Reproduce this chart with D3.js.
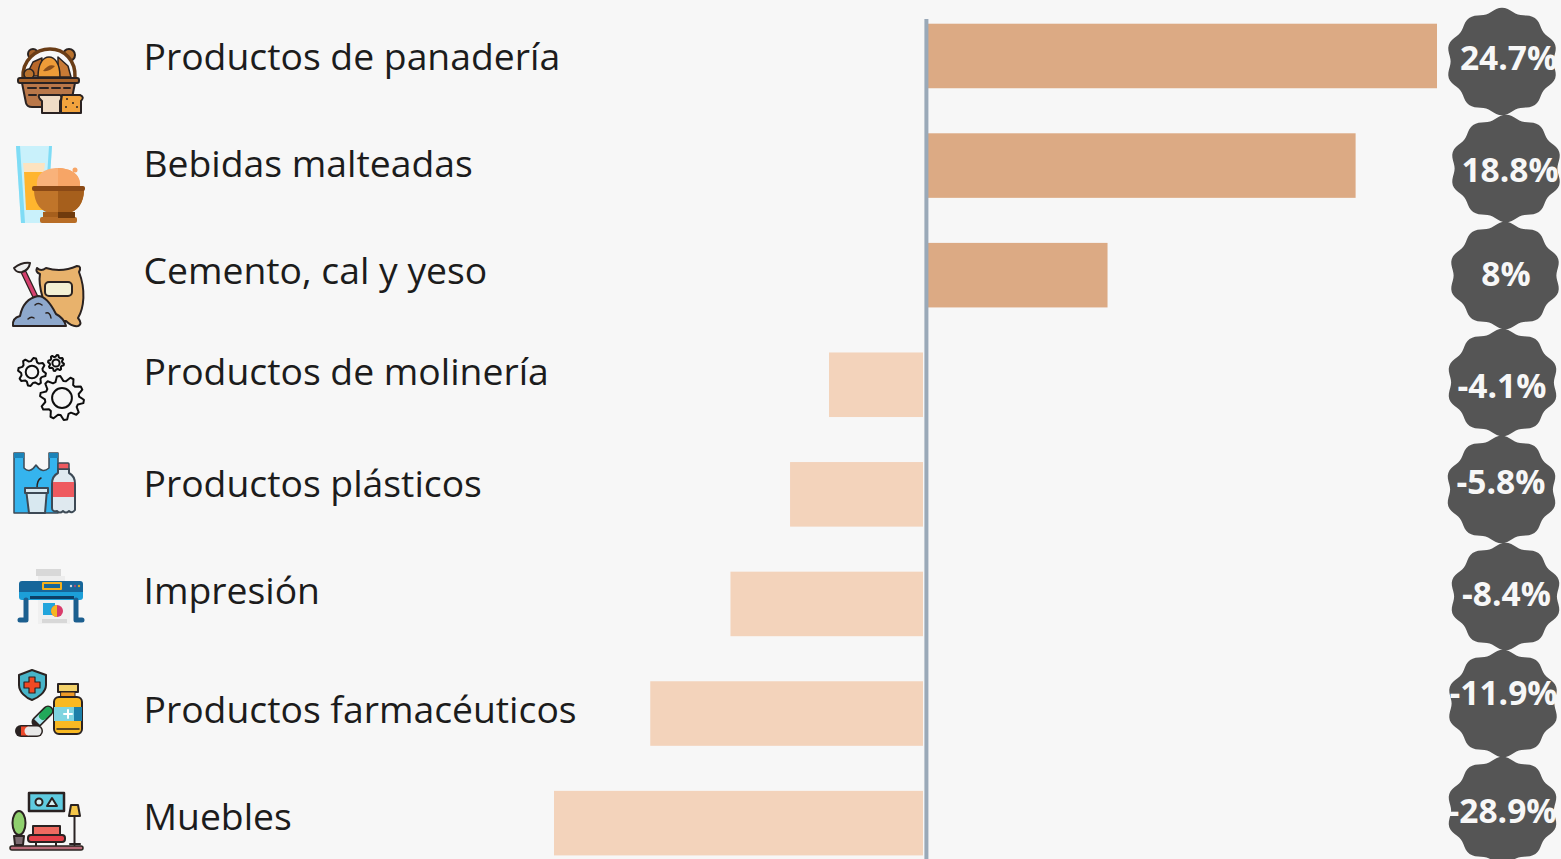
<!DOCTYPE html>
<html>
<head>
<meta charset="utf-8">
<script src="https://cdn.jsdelivr.net/npm/d3@7"></script>
<style>
  html, body { margin: 0; padding: 0; background: #f7f7f7; overflow: hidden; }
  text { font-family: "Open Sans", sans-serif; }
</style>
</head>
<body>
<div id="chart"></div>
<script>
const categories = ["Productos de panadería", "Bebidas malteadas", "Cemento, cal y yeso",
  "Productos de molinería", "Productos plásticos", "Impresión",
  "Productos farmacéuticos", "Muebles"];
// bar lengths as drawn in the picture (the two longest bars are not to scale with their labels)
const barValues = [22.2, 18.65, 7.83, -4.1, -5.8, -8.4, -11.9, -16.1];
const valueLabels = ["24.7%", "18.8%", "8%", "-4.1%", "-5.8%", "-8.4%", "-11.9%", "-28.9%"];

// hand placement, the original is not regular
const nameBaseline = [70, 177, 284, 385, 497, 604, 723, 830];
const badgeX = [1502, 1506, 1505, 1502.5, 1501.5, 1505.5, 1503, 1502.5];
const valueX = [1508.5, 1510, 1506, 1502, 1501, 1506.5, 1503.5, 1502.5];
const valueBaseline = [70, 182, 286, 398, 494, 606, 705, 823];

const width = 1561, height = 859;

const svg = d3.select("#chart").append("svg")
  .attr("width", width)
  .attr("height", height)
  .style("display", "block");

svg.append("defs").append("filter").attr("id", "soft")
  .append("feGaussianBlur").attr("stdDeviation", 0.45);
svg.select("defs").append("filter").attr("id", "softer")
  .append("feGaussianBlur").attr("stdDeviation", 0.35);

const y = d3.scaleBand().domain(categories).range([23.7, 855.4]).paddingInner(0.411);
const yBadge = d3.scalePoint().domain(categories).range([61.5, 810.5]);
// the negative side stops short of the axis, so each side has its own origin
const xPos = d3.scaleLinear().domain([0, 22.2]).range([928, 1437]);
const xNeg = d3.scaleLinear().domain([-16.1, 0]).range([554, 923]);

const rows = categories.map((name, i) => ({
  name, value: barValues[i], label: valueLabels[i],
  nameY: nameBaseline[i], badgeX: badgeX[i], valueX: valueX[i], valueY: valueBaseline[i]
}));

// bars
svg.append("g").attr("filter", "url(#softer)")
  .selectAll("rect").data(rows).join("rect")
  .attr("x", d => d.value > 0 ? xPos(0) : xNeg(d.value))
  .attr("y", d => y(d.name))
  .attr("width", d => d.value > 0 ? xPos(d.value) - xPos(0) : xNeg(0) - xNeg(d.value))
  .attr("height", y.bandwidth())
  .attr("fill", d => d.value > 0 ? "#dcaa84" : "#f3d3bb");

// axis line
svg.append("line")
  .attr("x1", 926.4).attr("x2", 926.4)
  .attr("y1", 19).attr("y2", height)
  .attr("stroke", "#9aa9b8").attr("stroke-width", 4);

// names
svg.append("g").selectAll("text").data(rows).join("text")
  .attr("x", 143.5)
  .attr("y", d => d.nameY)
  .attr("font-size", 37.3)
  .attr("fill", "#1c1c1c")
  .text(d => d.name);

// scalloped badges, ten soft lobes
const scallop = d3.lineRadial()
  .angle(t => t)
  .radius(t => 51.6 + 2.2 * Math.cos(10 * t))
  .curve(d3.curveLinearClosed);
const badgeAngles = d3.range(0, 2 * Math.PI, Math.PI / 60);

svg.append("g").selectAll("path").data(rows).join("path")
  .attr("transform", d => `translate(${d.badgeX},${yBadge(d.name)}) scale(1.04,1)`)
  .attr("d", scallop(badgeAngles))
  .attr("fill", "#555555");

svg.append("g").selectAll("text").data(rows).join("text")
  .attr("x", d => d.valueX)
  .attr("y", d => d.valueY)
  .attr("text-anchor", "middle")
  .attr("font-size", 33.5)
  .attr("font-weight", 700)
  .attr("fill", "#f7f7f7")
  .text(d => d.label);

// icons
const DK = "#2a2320";
const icons = svg.append("g").attr("filter", "url(#soft)")
  .attr("stroke-linejoin", "round").attr("stroke-linecap", "round");

function gear(cx, cy, r, teeth) {
  const pts = [];
  const n = teeth * 4;
  for (let k = 0; k < n; k++) {
    const a = (k + 0.5) / n * 2 * Math.PI;
    const rr = (k % 4 < 2) ? r : r * 0.78;
    pts.push([cx + rr * Math.cos(a), cy + rr * Math.sin(a)]);
  }
  icons.append("path").attr("d", d3.line().curve(d3.curveLinearClosed)(pts))
    .attr("fill", "#f7f7f7").attr("stroke", "#111").attr("stroke-width", 2);
  icons.append("circle").attr("cx", cx).attr("cy", cy).attr("r", r * 0.45)
    .attr("fill", "#f7f7f7").attr("stroke", "#111").attr("stroke-width", 2);
}

icons.html(`
<!-- basket -->
<circle cx="33" cy="54" r="5" fill="#a5622b" stroke="${DK}" stroke-width="2"/>
<circle cx="69" cy="55" r="6" fill="#b8722f" stroke="${DK}" stroke-width="2"/>
<path d="M23,78 C22,60 36,49 50,49 C64,49 76,60 75,78" fill="#f7f7f7" stroke="#6b3d17" stroke-width="3.5"/>
<path d="M26,76 L33,62 L42,58 L40,76Z" fill="#b8682c" stroke="${DK}" stroke-width="1.5"/>
<path d="M58,57 L68,66 L71,77 L58,77Z" fill="#c97a35" stroke="${DK}" stroke-width="1.5"/>
<path d="M38,77 C38,62 44,57 49,57 C54,57 60,62 60,77Z" fill="#ee9c38" stroke="${DK}" stroke-width="1.5"/>
<path d="M43,71 Q49,63 55,66 Q50,72 43,71Z" fill="#8a4f1c"/>
<circle cx="29" cy="74" r="5" fill="#b8722f" stroke="${DK}" stroke-width="1.5"/>
<path d="M22,83 L75,83 L71,103 Q70,107 65,107 L32,107 Q27,107 26,103Z" fill="#b9774a" stroke="${DK}" stroke-width="2"/>
<rect x="18" y="78" width="61" height="5" rx="2" fill="#a8632b" stroke="${DK}" stroke-width="2"/>
<path d="M28,88 h8 M40,88 h8 M52,88 h8 M64,88 h6 M29,95 h7" stroke="${DK}" stroke-width="2"/>
<path d="M39,95 H60 Q63,97 60,101 V113 H42 V101 Q38,98 39,95Z" fill="#f0dcc6" stroke="${DK}" stroke-width="2"/>
<path d="M62,95 H80 Q85,97 81,101 V113 H61 V101Z" fill="#f2a33c" stroke="${DK}" stroke-width="2"/>
<circle cx="67" cy="99" r="1" fill="${DK}"/><circle cx="73" cy="103" r="1" fill="${DK}"/><circle cx="66" cy="107" r="1" fill="${DK}"/><circle cx="77" cy="107" r="1" fill="${DK}"/>

<!-- malted drink -->
<path d="M16,146 H52 L47,223 H21Z" fill="#c9f1fb"/>
<path d="M16,146 H20 L25,223 H21Z M52,146 H49 L44,223 H47Z" fill="#7fdcf5"/>
<path d="M23,163 H45 L44,172 H24Z" fill="#fde3c0"/>
<path d="M24,172 H44 L43,210 H26Z" fill="#ffb52e"/>
<path d="M37,186 C35,172 48,168 58,168 C70,168 81,174 80,186Z" fill="#f9b27a"/>
<path d="M58,168 C70,168 81,174 80,186 H58Z" fill="#f7a566"/>
<circle cx="75" cy="170" r="2.5" fill="#f7a566"/>
<path d="M34,190 H84 C84,204 76,212 68,213 H50 C42,212 34,204 34,190Z" fill="#c0752a"/>
<path d="M58,190 H84 C84,204 76,212 68,213 H58Z" fill="#a65f1c"/>
<rect x="32" y="186" width="53" height="5" rx="2" fill="#8a4a14"/>
<rect x="43" y="212" width="32" height="6" fill="#a65f1c"/>
<rect x="40" y="217" width="37" height="6" rx="2" fill="#b86d25"/>
<rect x="58" y="212" width="17" height="6" fill="#6f3a0e"/>

<!-- cement -->
<path d="M37,268 Q41,272 46,268 C56,271 68,270 77,266 Q82,266 79,272 C86,290 84,308 78,318 Q83,324 78,326 Q72,327 66,321 L55,321 C44,310 38,285 40,274 Q35,272 37,268Z" fill="#e8b26c" stroke="${DK}" stroke-width="2"/>
<rect x="45" y="282" width="27" height="14" rx="4" fill="#f3f0d4" stroke="${DK}" stroke-width="2"/>
<path d="M24,273 L36,298" stroke="${DK}" stroke-width="6"/>
<path d="M24,273 L36,298" stroke="#d43f6e" stroke-width="3.5"/>
<path d="M14,268 Q22,262 30,263 Q29,270 22,272 Q16,273 14,268Z" fill="#eeeeee" stroke="${DK}" stroke-width="2"/>
<path d="M13,326 Q12,318 20,316 C22,306 28,298 38,296 C46,296 52,306 56,314 Q64,318 66,326Z" fill="#8ea8cc" stroke="${DK}" stroke-width="2"/>
<path d="M35,305 Q38,302 42,305 M46,313 Q50,312 51,318 M28,319 Q31,316 34,318" fill="none" stroke="${DK}" stroke-width="1.5"/>

<!-- plastic bag and bottle -->
<path d="M14,453 H24 V468 Q30,474 36,465 Q42,474 49,468 V453 H58 V513 H14Z" fill="#35b4ee" stroke="#3c4a55" stroke-width="1.5"/>
<path d="M14,453 H24 V458 H14Z M49,453 H58 V458 H49Z" fill="#1f83b8"/>
<path d="M37,488 Q37,480 41,478" fill="none" stroke="${DK}" stroke-width="1.5"/>
<path d="M26,489 H47 L45,513 H29Z" fill="#d8e8f0" stroke="#3c4a55" stroke-width="2"/>
<rect x="25" y="488" width="23" height="5" fill="#d8e8f0" stroke="#3c4a55" stroke-width="2"/>
<path d="M58,469 H69 V473 Q75,476 75,484 V510 Q72,514 69,511 Q66,514 63,511 Q60,514 57,511 Q52,512 52,508 V484 Q52,476 58,473Z" fill="#dfe9ef" stroke="#3c4a55" stroke-width="2"/>
<rect x="58" y="463" width="11" height="6" rx="1" fill="#ee5a5e" stroke="#3c4a55" stroke-width="1.5"/>
<rect x="53" y="482" width="21" height="15" fill="#ee5a5e"/>

<!-- printer -->
<rect x="36" y="569" width="25" height="7" fill="#d8d8d8"/>
<rect x="38" y="576" width="27" height="5" fill="#ededed"/>
<path d="M19,584 Q19,581 22,581 H80 Q83,581 83,584 V592 H19Z" fill="#17669a"/>
<path d="M19,592 H83 V597 Q83,600 80,600 H22 Q19,600 19,597Z" fill="#1e9fd8"/>
<rect x="43" y="583" width="18" height="6" fill="#17669a" stroke="#f2b01e" stroke-width="2"/>
<circle cx="71" cy="586" r="1.2" fill="#cfd8dd"/><circle cx="75" cy="586" r="1.2" fill="#a14a7a"/><circle cx="79" cy="586" r="1.2" fill="#d9a92a"/>
<rect x="30" y="596" width="44" height="3" fill="#0e4066"/>
<path d="M26,600 V620 H20" fill="none" stroke="#1f5f8f" stroke-width="5"/>
<path d="M76,600 V620 H82" fill="none" stroke="#1f5f8f" stroke-width="5"/>
<rect x="38" y="600" width="32" height="24" fill="#f0f0f0"/>
<rect x="43" y="603" width="12" height="12" fill="#22a5dc"/>
<circle cx="57" cy="611" r="6" fill="#d93a6a"/>
<path d="M57,605 A6,6 0 0 0 57,617Z" fill="#f5b623"/>
<rect x="42" y="619" width="25" height="4" fill="#d8d8d8"/>

<!-- pharma -->
<path d="M32,670 L46,675 V685 C46,692 38,698 32,700 C26,698 19,692 19,685 V675Z" fill="#46b4c8" stroke="${DK}" stroke-width="2"/>
<path d="M29,677 h6 v5 h5 v6 h-5 v5 h-6 v-5 h-5 v-6 h5Z" fill="#f04a23" stroke="${DK}" stroke-width="1.2"/>
<rect x="58" y="684" width="20" height="8" fill="#f4d26a" stroke="${DK}" stroke-width="2"/>
<rect x="61" y="692" width="14" height="6" fill="#f09a25" stroke="${DK}" stroke-width="1"/>
<rect x="54" y="697" width="28" height="37" rx="5" fill="#f9b921" stroke="${DK}" stroke-width="2"/>
<rect x="54" y="707" width="28" height="14" fill="#7fd4e0"/>
<rect x="74" y="707" width="8" height="14" fill="#1f7fa8"/>
<path d="M68,710 V718 M64,714 H72" stroke="#ffffff" stroke-width="2"/>
<path d="M57,729 H79" stroke="${DK}" stroke-width="1.5"/>
<path d="M37,722 L48,711" stroke="${DK}" stroke-width="11"/>
<path d="M37,722 L43,716" stroke="#a8e4ef" stroke-width="8" stroke-linecap="butt"/>
<path d="M43,716 L48,711" stroke="#22a85a" stroke-width="8"/>
<path d="M21,731 H37" stroke="${DK}" stroke-width="12"/>
<path d="M21,731 H29" stroke="#ee4a2c" stroke-width="9" stroke-linecap="butt"/>
<path d="M29,731 H37" stroke="#e8e8e8" stroke-width="9"/>

<!-- furniture -->
<rect x="29" y="793" width="35" height="18" fill="#5fcbe0" stroke="${DK}" stroke-width="2.5"/>
<circle cx="39" cy="802" r="3.5" fill="#d8f0f4" stroke="${DK}" stroke-width="2"/>
<path d="M47,806 L52,798 L57,806Z" fill="#d8f0f4" stroke="${DK}" stroke-width="2"/>
<ellipse cx="19" cy="823" rx="6.5" ry="12" fill="#8fd06e" stroke="${DK}" stroke-width="2"/>
<path d="M14,836 H24 L23,845 H15Z" fill="#7a6a70" stroke="${DK}" stroke-width="2"/>
<rect x="33" y="826" width="27" height="10" fill="#ee6a60" stroke="${DK}" stroke-width="2"/>
<rect x="28" y="835" width="37" height="7" rx="3" fill="#e6404a" stroke="${DK}" stroke-width="2"/>
<path d="M36,842 V846 M56,842 V846" stroke="${DK}" stroke-width="2"/>
<path d="M71,805 H78 L80,816 H69Z" fill="#f5c64a" stroke="${DK}" stroke-width="2"/>
<path d="M74.5,816 V845 M70,844 H80" stroke="${DK}" stroke-width="2"/>
<rect x="10" y="846" width="73" height="4" rx="2" fill="#b86a78" stroke="${DK}" stroke-width="1.5"/>
`);

// gears for molinería
gear(32, 372, 14, 8);
gear(56, 363, 8, 8);
gear(62, 398, 22, 10);
</script>
</body>
</html>
